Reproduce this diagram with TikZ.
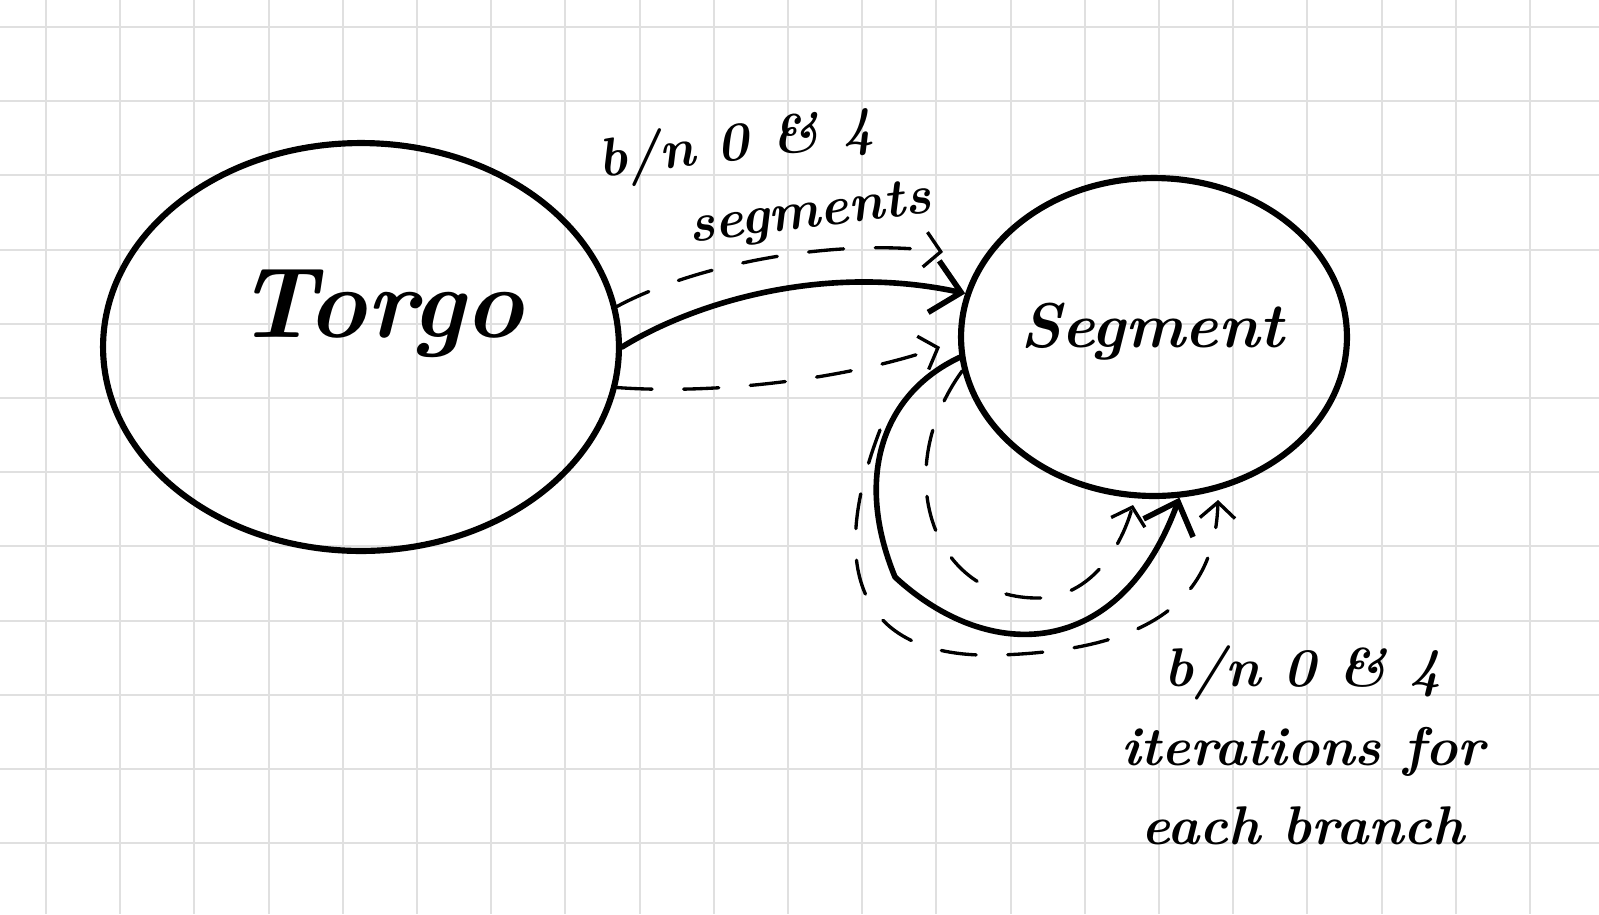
\documentclass[tikz,border=0pt]{standalone}
\usepackage{fontspec}
\usetikzlibrary{shapes.geometric,arrows.meta}
\definecolor{gridc}{RGB}{224,224,224}
\begin{document}
\begin{tikzpicture}[x=0.02cm,y=-0.02cm,
  ell/.style={draw, ellipse, line width=3.5pt, inner sep=0pt},
  solidarrow/.style={line width=3.2pt, line cap=round, line join=round, -{Straight Barb[length=16pt,width=30pt]}},
  dasharrow/.style={line width=1.9pt, line cap=round, dash pattern=on 20pt off 18pt, -{Straight Barb[length=9pt,width=20pt]}},
  hand/.style={inner sep=0pt, font=\fontsize{31}{43}\selectfont\bfseries\itshape}
]
\fill[white] (0,0) rectangle (1599,914);
\useasboundingbox (0,0) rectangle (1599,914);
\foreach \i in {0,...,20} \draw[gridc, line width=1.1pt] ({46+74.2*\i},0) -- ({46+74.2*\i},914);
\foreach \j in {0,...,11} \draw[gridc, line width=1.1pt] (0,{27+74.2*\j}) -- (1599,{27+74.2*\j});

\node[ell, minimum width=10.32cm, minimum height=8.16cm] (torgo) at (361,347) {};
\node[ell, minimum width=7.72cm, minimum height=6.36cm] (segment) at (1154,337) {};

\node[anchor=base, inner sep=0pt, font=\fontsize{57}{57}\selectfont\bfseries\itshape] (torgotxt) at (380,337) {Torgo};
\node[anchor=base, inner sep=0pt, font=\fontsize{36}{36}\selectfont\bfseries\itshape] (segtxt) at (1152,347) {Segment};

% Torgo -> Segment
\draw[solidarrow] (torgo.east) .. controls (690,305) and (820,262) .. (segment.167);
\coordinate (uptip) at (943,252);
\draw[dasharrow] (torgo.9) .. controls (700,262) and (840,238) .. (uptip);
\coordinate (lowtip) at (940,347);
\draw[dasharrow] (torgo.-9) .. controls (720,395) and (850,378) .. (lowtip);

% self loop
\draw[solidarrow] (segment.186) .. controls (880,395) and (855,480) .. (895,577)
  .. controls (990,665) and (1120,660) .. (segment.-81);
\coordinate (innertip) at (1133,505);
\draw[dasharrow] (segment.190) .. controls (890,470) and (930,600) .. (1040,598)
  .. controls (1090,596) and (1120,550) .. (innertip);
\coordinate (outerstart) at (880,430);
\coordinate (outertip) at (1218,500);
\draw[dasharrow] (outerstart) .. controls (830,560) and (850,660) .. (1000,655)
  .. controls (1150,650) and (1215,600) .. (outertip);

% labels
\node[hand, rotate=7, align=left] (toplbl) at (765,180) {b/n 0 \& 4\\\hspace{46pt}segments};
\node[hand, align=center, font=\fontsize{31}{45}\selectfont\bfseries\itshape] (botlbl) at (1303,745) {b/n 0 \& 4\\iterations for\\each branch};
\end{tikzpicture}
\end{document}
